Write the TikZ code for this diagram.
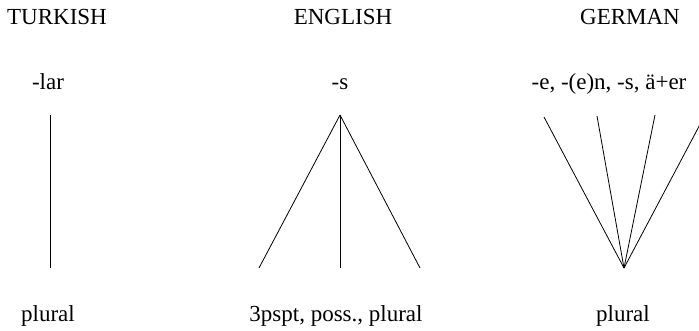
\documentclass[tikz,border=0pt]{standalone}
\usepackage{fontspec}
\setmainfont{Liberation Serif}
\begin{document}
\begin{tikzpicture}[x=1pt, y=-1pt,
    lang/.style={anchor=base, inner sep=0pt, font=\fontsize{23}{27}\selectfont},
    morph/.style={anchor=base, inner sep=0pt, font=\fontsize{23}{27}\selectfont},
    link/.style={line width=0.8pt}]
    \clip (0,0) rectangle (699,330);
    % language headings
    \node [lang] (tr) at (57,24) {TURKISH};
    \node [lang] (en) at (343,24) {ENGLISH};
    \node [lang] (de) at (630,24) {GERMAN};
    % forms
    \node [morph] (lar) at (48,89) {-lar};
    \node [morph] (s) at (340,89) {-s};
    \node [morph] (deform) at (609,89) {-e, -(e)n, -s, ä+er};
    % meanings
    \node [morph] (trpl) at (48,321) {plural};
    \node [morph] (enmean) at (336,321) {3pspt, poss., plural};
    \node [morph] (depl) at (623,321) {plural};
    % line ends
    \coordinate (tr1) at (50,115);
    \coordinate (tr2) at (50,268);
    \coordinate (enT) at (340,115);
    \coordinate (enA) at (259,268);
    \coordinate (enB) at (340,268);
    \coordinate (enC) at (420,268);
    \coordinate (deB) at (624,268);
    \coordinate (deA) at (544,117);
    \coordinate (deC) at (597,116);
    \coordinate (deD) at (655,115);
    \coordinate (deE) at (705,115);
    \draw [link] (tr1) -- (tr2);
    \draw [link] (enT) -- (enA);
    \draw [link] (enT) -- (enB);
    \draw [link] (enT) -- (enC);
    \draw [link] (deA) -- (deB);
    \draw [link] (deC) -- (deB);
    \draw [link] (deD) -- (deB);
    \draw [link] (deE) -- (deB);
\end{tikzpicture}
\end{document}
